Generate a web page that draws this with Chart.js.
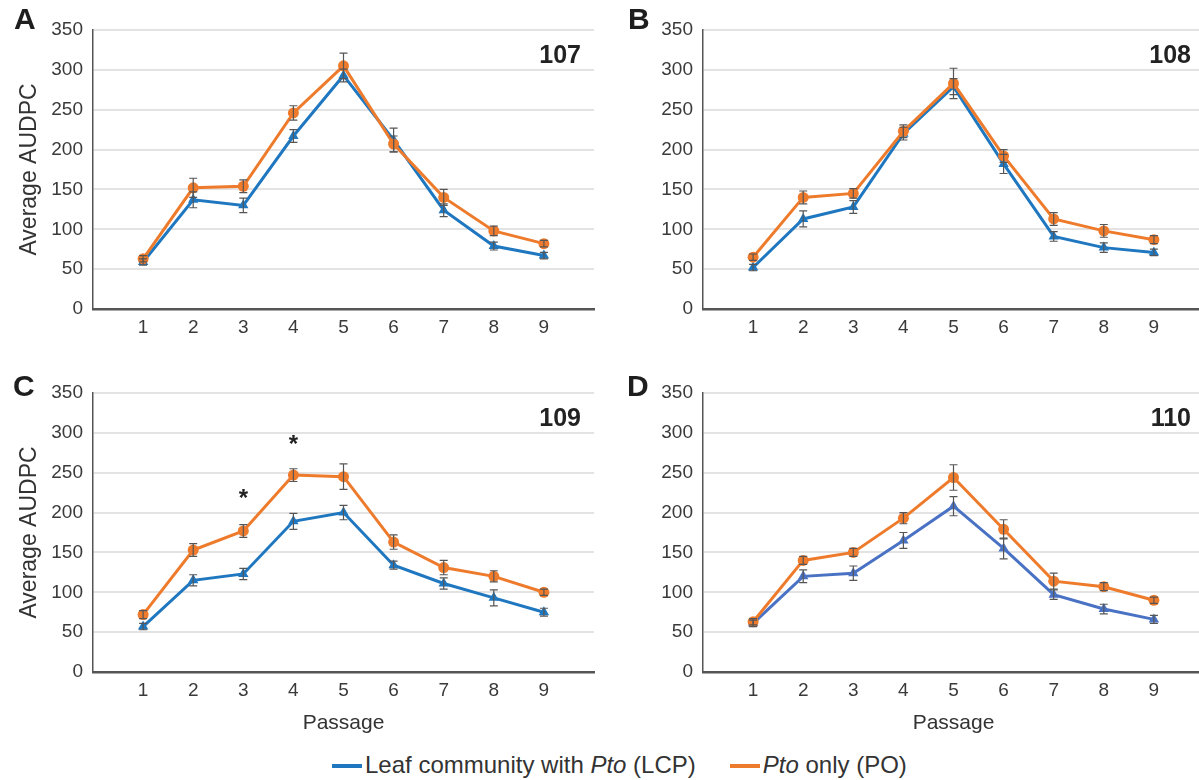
<!DOCTYPE html>
<html><head><meta charset="utf-8">
<script src="https://cdn.jsdelivr.net/npm/chart.js@4/dist/chart.umd.min.js"></script>
<style>
html,body{margin:0;padding:0;background:#fff;}
body{width:1199px;height:780px;position:relative;overflow:hidden;font-family:'Liberation Sans',Arial,Helvetica,sans-serif;}
.panel{position:absolute;}
.plabel{position:absolute;font-weight:bold;font-size:30px;line-height:30px;color:#1e1e1e;}
.legend{position:absolute;top:751px;left:332px;font-size:24px;line-height:27px;color:#333;white-space:nowrap;}
.sw{display:inline-block;width:30px;height:4px;vertical-align:middle;position:relative;top:-1px;margin-right:3px;}
</style></head><body>
<canvas id="cA" class="panel" style="left:0;top:0" width="600" height="345"></canvas>
<canvas id="cB" class="panel" style="left:600px;top:0" width="610" height="345"></canvas>
<canvas id="cC" class="panel" style="left:0;top:360px" width="600" height="382"></canvas>
<canvas id="cD" class="panel" style="left:600px;top:360px" width="610" height="382"></canvas>
<div class="plabel" style="left:14px;top:4px">A</div>
<div class="plabel" style="left:628px;top:4px">B</div>
<div class="plabel" style="left:13px;top:371px">C</div>
<div class="plabel" style="left:627px;top:371px">D</div>
<div class="legend"><span class="sw" style="background:#1f77c0"></span>Leaf community with <i>Pto</i> (LCP)<span style="display:inline-block;width:34px"></span><span class="sw" style="background:#ee7b2c"></span><i>Pto</i> only (PO)</div>
<script>
// ---- data ----
const passages = [1, 2, 3, 4, 5, 6, 7, 8, 9];
const yTicks = [0, 50, 100, 150, 200, 250, 300, 350];

const lcpA = [59, 137, 130, 217, 293, 212, 124, 79, 67];
const lcpErrA = [4, 10, 9, 8, 8, 15, 8, 5, 4];
const poA = [63, 152, 154, 246, 305, 207, 140, 98, 82];
const poErrA = [4, 12, 8, 9, 16, 10, 10, 6, 4];

const lcpB = [52, 113, 128, 220, 279, 182, 91, 77, 71];
const lcpErrB = [4, 10, 8, 8, 10, 12, 6, 6, 4];
const poB = [65, 140, 145, 223, 283, 192, 113, 98, 87];
const poErrB = [4, 8, 6, 8, 19, 8, 8, 8, 5];

const lcpC = [57, 115, 123, 189, 200, 134, 111, 93, 75];
const lcpErrC = [4, 7, 7, 10, 9, 5, 7, 10, 5];
const poC = [72, 153, 177, 247, 245, 163, 131, 120, 100];
const poErrC = [5, 8, 8, 8, 16, 9, 9, 7, 4];
const starsC = [null, null, 226, 294, null, null, null, null, null];

const lcpD = [61, 120, 124, 165, 208, 155, 97, 79, 66];
const lcpErrD = [4, 8, 9, 10, 12, 13, 6, 6, 5];
const poD = [63, 140, 150, 193, 244, 179, 114, 107, 90];
const poErrD = [4, 5, 5, 7, 16, 12, 10, 5, 4];

const FONT = "'Liberation Sans', Arial, Helvetica, sans-serif";

const errorBars = {
  id: 'errorBars',
  afterDatasetsDraw(chart) {
    const ctx = chart.ctx, ys = chart.scales.y;
    chart.data.datasets.forEach((ds, i) => {
      const meta = chart.getDatasetMeta(i);
      ctx.save();
      ctx.strokeStyle = '#555';
      ctx.lineWidth = 1.2;
      meta.data.forEach((pt, j) => {
        const v = ds.data[j].y, e = ds.errors[j];
        const y1 = ys.getPixelForValue(v + e), y2 = ys.getPixelForValue(v - e), x = pt.x;
        ctx.beginPath();
        ctx.moveTo(x, y1); ctx.lineTo(x, y2);
        ctx.moveTo(x - 4, y1); ctx.lineTo(x + 4, y1);
        ctx.moveTo(x - 4, y2); ctx.lineTo(x + 4, y2);
        ctx.stroke();
      });
      ctx.restore();
    });
  }
};

const annot = {
  id: 'annot',
  afterDraw(chart, args, opts) {
    const ctx = chart.ctx, a = chart.chartArea;
    ctx.save();
    ctx.fillStyle = '#222';
    ctx.font = 'bold 25px ' + FONT;
    ctx.textAlign = 'right';
    ctx.textBaseline = 'alphabetic';
    ctx.fillText(opts.label, a.right - 13, a.top + 33);
    if (opts.stars) {
      ctx.font = 'bold 24px ' + FONT;
      ctx.textAlign = 'center';
      opts.stars.forEach((s, i) => {
        if (s == null) return;
        const x = chart.scales.x.getPixelForValue(passages[i]);
        const y = chart.scales.y.getPixelForValue(s);
        ctx.fillText('*', x, y + 14);
      });
    }
    ctx.restore();
  }
};

function makeChart(id, lcp, lcpErr, po, poErr, o) {
  const blue = o.blue || '#1f77c0', orange = '#ee7b2c';
  return new Chart(document.getElementById(id), {
    type: 'line',
    plugins: [errorBars, annot],
    data: {
      datasets: [
        { label: 'Pto only (PO)', order: 0, data: passages.map((p, i) => ({ x: p, y: po[i] })), errors: poErr,
          borderColor: orange, backgroundColor: orange, pointStyle: 'circle', pointRadius: 5.5, pointBorderWidth: 0, borderWidth: 3, tension: 0 },
        { label: 'Leaf community with Pto (LCP)', order: 1, data: passages.map((p, i) => ({ x: p, y: lcp[i] })), errors: lcpErr,
          borderColor: blue, backgroundColor: blue, pointStyle: 'triangle', pointRadius: 6, pointBorderWidth: 0, borderWidth: 3, tension: 0 }
      ]
    },
    options: {
      responsive: false, animation: false, events: [],
      layout: { padding: { top: o.top, right: 3, left: 0, bottom: 0 } },
      plugins: { legend: { display: false }, tooltip: { enabled: false }, annot: { label: o.label, stars: o.stars } },
      scales: {
        x: {
          type: 'linear', min: 0, max: 10,
          afterBuildTicks: s => { s.ticks = passages.map(v => ({ value: v })); },
          afterFit: s => { s.height = o.xh; },
          grid: { display: false, drawTicks: false },
          border: { color: '#555', width: 2.5 },
          ticks: { font: { family: FONT, size: 19 }, color: '#3a3a3a', padding: 7, maxRotation: 0, autoSkip: false },
          title: { display: !!o.xTitle, text: 'Passage', font: { family: FONT, size: 21 }, color: '#333', padding: { top: 0, bottom: 6 } }
        },
        y: {
          min: 0, max: 350,
          afterBuildTicks: s => { s.ticks = yTicks.map(v => ({ value: v })); },
          afterFit: s => { s.width = o.yw; },
          grid: { color: '#e3e3e3', lineWidth: 2, drawTicks: false },
          border: { color: '#555', width: 1.5 },
          ticks: { font: { family: FONT, size: 19 }, color: '#3a3a3a', padding: 10 },
          title: { display: !!o.yTitle, text: 'Average AUDPC', font: { family: FONT, size: 23 }, color: '#333', padding: { top: 16, bottom: 0 } }
        }
      }
    }
  });
}

makeChart('cA', lcpA, lcpErrA, poA, poErrA, { top: 30, xh: 36, yw: 93, yTitle: true, label: '107' });
makeChart('cB', lcpB, lcpErrB, poB, poErrB, { top: 30, xh: 36, yw: 103, label: '108' });
makeChart('cC', lcpC, lcpErrC, poC, poErrC, { top: 33, xh: 70, yw: 93, yTitle: true, xTitle: true, label: '109', stars: starsC });
makeChart('cD', lcpD, lcpErrD, poD, poErrD, { top: 33, xh: 70, yw: 103, xTitle: true, label: '110', blue: '#4a72c4' });
</script>
</body></html>
